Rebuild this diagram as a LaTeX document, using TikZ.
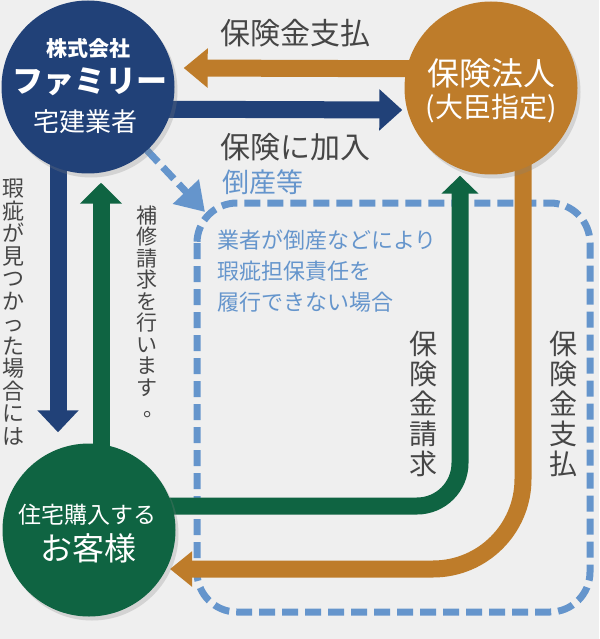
\documentclass[tikz,border=0pt]{standalone}
\usepackage{fontspec}
\setmainfont{Noto Sans CJK JP}
\usetikzlibrary{arrows.meta}
\usetikzlibrary{shadows}
\usetikzlibrary{backgrounds}

\definecolor{famnavy}{RGB}{33,65,120}
\definecolor{famorange}{RGB}{190,124,42}
\definecolor{famgreen}{RGB}{15,100,66}
\definecolor{famdash}{RGB}{101,149,204}
\definecolor{famtext}{RGB}{70,70,70}
\definecolor{fambg}{RGB}{239,239,239}

\newcommand{\fs}[2]{\fontsize{#1}{#2}\selectfont}
\newcommand{\tatemaru}{\makebox[1em][l]{\hspace{0.35em}。}}

\tikzset{
  party/.style={circle,minimum size=173pt,inner sep=0pt,
    drop shadow={shadow xshift=3pt,shadow yshift=-4pt,opacity=0.25}},
  flow/.style={line width=17pt},
  dashframe/.style={famdash,line width=7pt,dash pattern=on 16pt off 7pt},
  tate/.style={align=center,text=famtext,inner sep=0pt},
  intext/.style={text=white,inner sep=0pt},
}

\begin{document}
\begin{tikzpicture}[x=1pt,y=-1pt]
\useasboundingbox (0,0) rectangle (599,639);

% the three parties
\node[party,fill=famnavy] (kaisha) at (88,87) {};
\node[party,fill=famorange] (hoken) at (491,88) {};
\node[party,fill=famgreen] (kyaku) at (89,530) {};

\node[intext,font=\bfseries\fs{21}{21}] (kaishaA) at (88,48) {株式会社};
\node[intext,font=\bfseries\fs{31}{31}] (kaishaB) at (90,82) {ファミリー};
\node[intext,font=\fs{26}{26}] (kaishaC) at (85,122) {宅建業者};
\node[intext,font=\fs{32}{32}] (hokenA) at (491,73) {保険法人};
\node[intext,font=\fs{28}{28}] (hokenB) at (491,108) {(大臣指定)};
\node[intext,font=\fs{23}{23}] (kyakuA) at (87,515) {住宅購入する};
\node[intext,font=\fs{32}{32}] (kyakuB) at (88,548) {お客様};

\coordinate (frametip) at (205,212);

\begin{scope}[on background layer]
\fill[fambg] (0,0) rectangle (599,639);
\draw[dashframe,rounded corners=40pt] (197,203) rectangle (590,612);
\draw[dashframe,-{Triangle[length=28pt,width=34pt]}] (kaisha.-47) -- (frametip);

% money and claims
\draw[flow,famorange,-{Triangle[length=24pt,width=38pt]}] ([yshift=19pt]hoken.center) -- ([xshift=9pt,yshift=19pt]kaisha.east);
\draw[flow,famnavy,-{Triangle[length=23pt,width=40pt]}] ([yshift=-22pt]kaisha.center) -- ([xshift=-2pt,yshift=-22pt]hoken.west);
\draw[flow,famnavy,-{Triangle[length=22pt,width=40pt]}] ([xshift=-30pt]kaisha.center) -- ([xshift=-31pt,yshift=11pt]kyaku.north);
\draw[flow,famgreen,-{Triangle[length=21pt,width=41pt]}] ([xshift=12pt]kyaku.center) -- ([xshift=13pt,yshift=-9pt]kaisha.south);
\draw[flow,famgreen,rounded corners=43pt,-{Triangle[length=18pt,width=36pt]}] ([yshift=24pt]kyaku.center) -| ([xshift=-31pt,yshift=-1pt]hoken.south);
\draw[flow,famorange,rounded corners=90pt,-{Triangle[length=22pt,width=34pt]}] ([xshift=32pt]hoken.center) |- ([xshift=81pt,yshift=-39pt]kyaku.center);
\end{scope}

% labels
\node[text=famtext,font=\fs{30}{30}] (payout) at (295,33) {保険金支払};
\node[text=famtext,font=\fs{30}{30}] (join) at (295,147) {保険に加入};
\node[text=famdash,font=\fs{27}{27},anchor=west,inner sep=0pt] (bankrupt) at (222,182) {倒産等};
\node[text=famdash,font=\fs{22}{31},align=left,anchor=west,inner sep=0pt] (cond) at (217,271) {業者が倒産などにより\\瑕疵担保責任を\\履行できない場合};

\node[tate,font=\fs{22}{22.5}] (defect) at (13,312) {瑕\\疵\\が\\見\\つ\\か\\っ\\た\\場\\合\\に\\は};
\node[tate,font=\fs{21}{21.5}] (repair) at (147,312) {補\\修\\請\\求\\を\\行\\い\\ま\\す\\\tatemaru};
\node[tate,font=\fs{28}{30}] (claim) at (423,404) {保\\険\\金\\請\\求};
\node[tate,font=\fs{28}{30}] (paid) at (563,404) {保\\険\\金\\支\\払};
\end{tikzpicture}
\end{document}
